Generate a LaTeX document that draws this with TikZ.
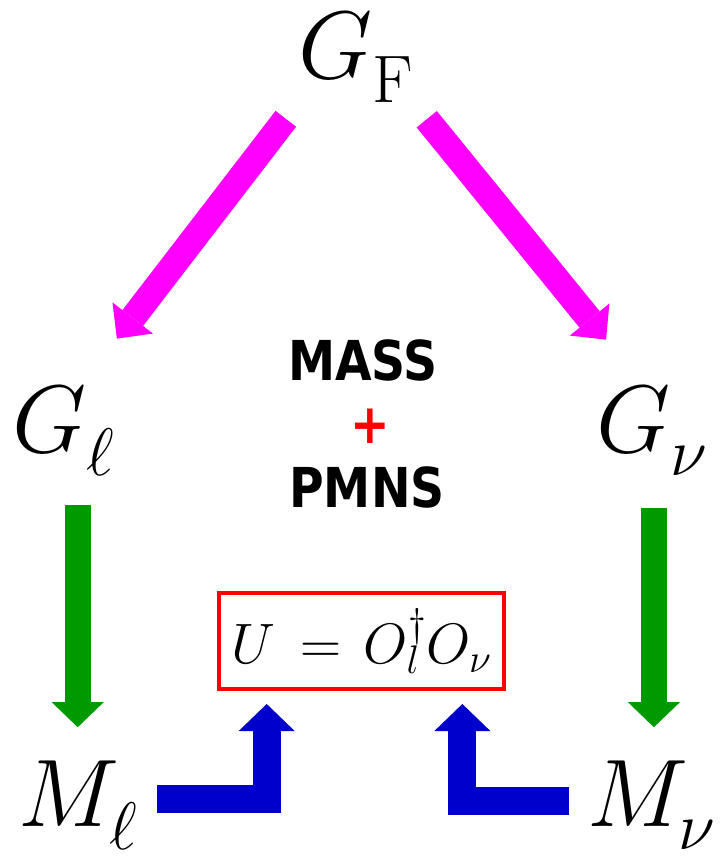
\RequirePackage{fix-cm}
\documentclass[tikz,border=0pt]{standalone}
\usepackage{fontspec}
\newfontfamily\labelfont[FakeStretch=0.86]{DejaVu Sans}
\usetikzlibrary{arrows.meta,calc,positioning}
\definecolor{arrowpink}{RGB}{255,0,255}
\definecolor{arrowgreen}{RGB}{0,153,0}
\definecolor{arrowblue}{RGB}{0,0,204}

\begin{document}
\begin{tikzpicture}[x=1pt,y=-1pt]
\tikzset{sym/.style={font=\fontsize{96}{100}\selectfont,inner sep=0pt,anchor=base west}}
\tikzset{word/.style={font=\labelfont\bfseries\fontsize{55}{60}\selectfont,inner sep=0pt,anchor=base}}
\tikzset{toparrow/.style={draw=arrowpink,line width=26pt,-{Triangle[width=51pt,length=26pt,line width=0pt]}}}
\tikzset{downarrow/.style={draw=arrowgreen,line width=26pt,-{Triangle[width=52pt,length=25pt,line width=0pt]}}}
\tikzset{elbowarrow/.style={draw=arrowblue,line width=28pt,-{Triangle[width=56pt,length=27pt,line width=0pt]}}}
\useasboundingbox (0,0) rectangle (722,858);

% groups and mass matrices
\node[sym] (gf) at (298,79) {$G^{}_{\mathrm{F}}$};
\node[sym] (gl) at (12,452) {$G^{}_{\ell}$};
\node[sym] (gn) at (596,452) {$G^{}_{\nu}$};
\node[sym] (ml) at (18,826) {$M^{}_{\ell}$};
\node[sym] (mn) at (587,826) {$M^{}_{\nu}$};

% middle text
\node[word] (mass) at (363,380) {MASS};
\node[word,anchor=center,text=red] (plus) at (370,426) {+};
\node[word] (pmns) at (367,507) {PMNS};

% mixing matrix
\node[draw=red,line width=4pt,minimum width=285pt,minimum height=96pt,inner sep=0pt,
  font=\fontsize{57}{60}\selectfont] (ubox) at (361.5,641)
  {$U\mkern3mu = \mkern2mu O_l^{\dagger} O_{\nu}$};

\draw[toparrow,shorten <=20pt,shorten >=60pt] (gf.south west) -- ([xshift=17pt]gl.north);
\draw[toparrow,shorten <=21pt,shorten >=60pt] (gf.south east) -- ([xshift=-8pt]gn.north);
\draw[downarrow,shorten <=29pt,shorten >=33pt] (gl.south -| ml.north) -- (ml.north);
\draw[downarrow,shorten <=32pt,shorten >=33pt] ([xshift=2pt]gn.south) -- ([xshift=2pt]gn.south |- mn.north);
\draw[elbowarrow,shorten <=20pt,shorten >=13pt] ([yshift=6pt]ml.east) -| ($(ubox.south west)!0.172!(ubox.south east)$);
\draw[elbowarrow,shorten <=18pt,shorten >=13pt] ([yshift=4pt]mn.west) -| ($(ubox.south west)!0.849!(ubox.south east)$);
\end{tikzpicture}
\end{document}
